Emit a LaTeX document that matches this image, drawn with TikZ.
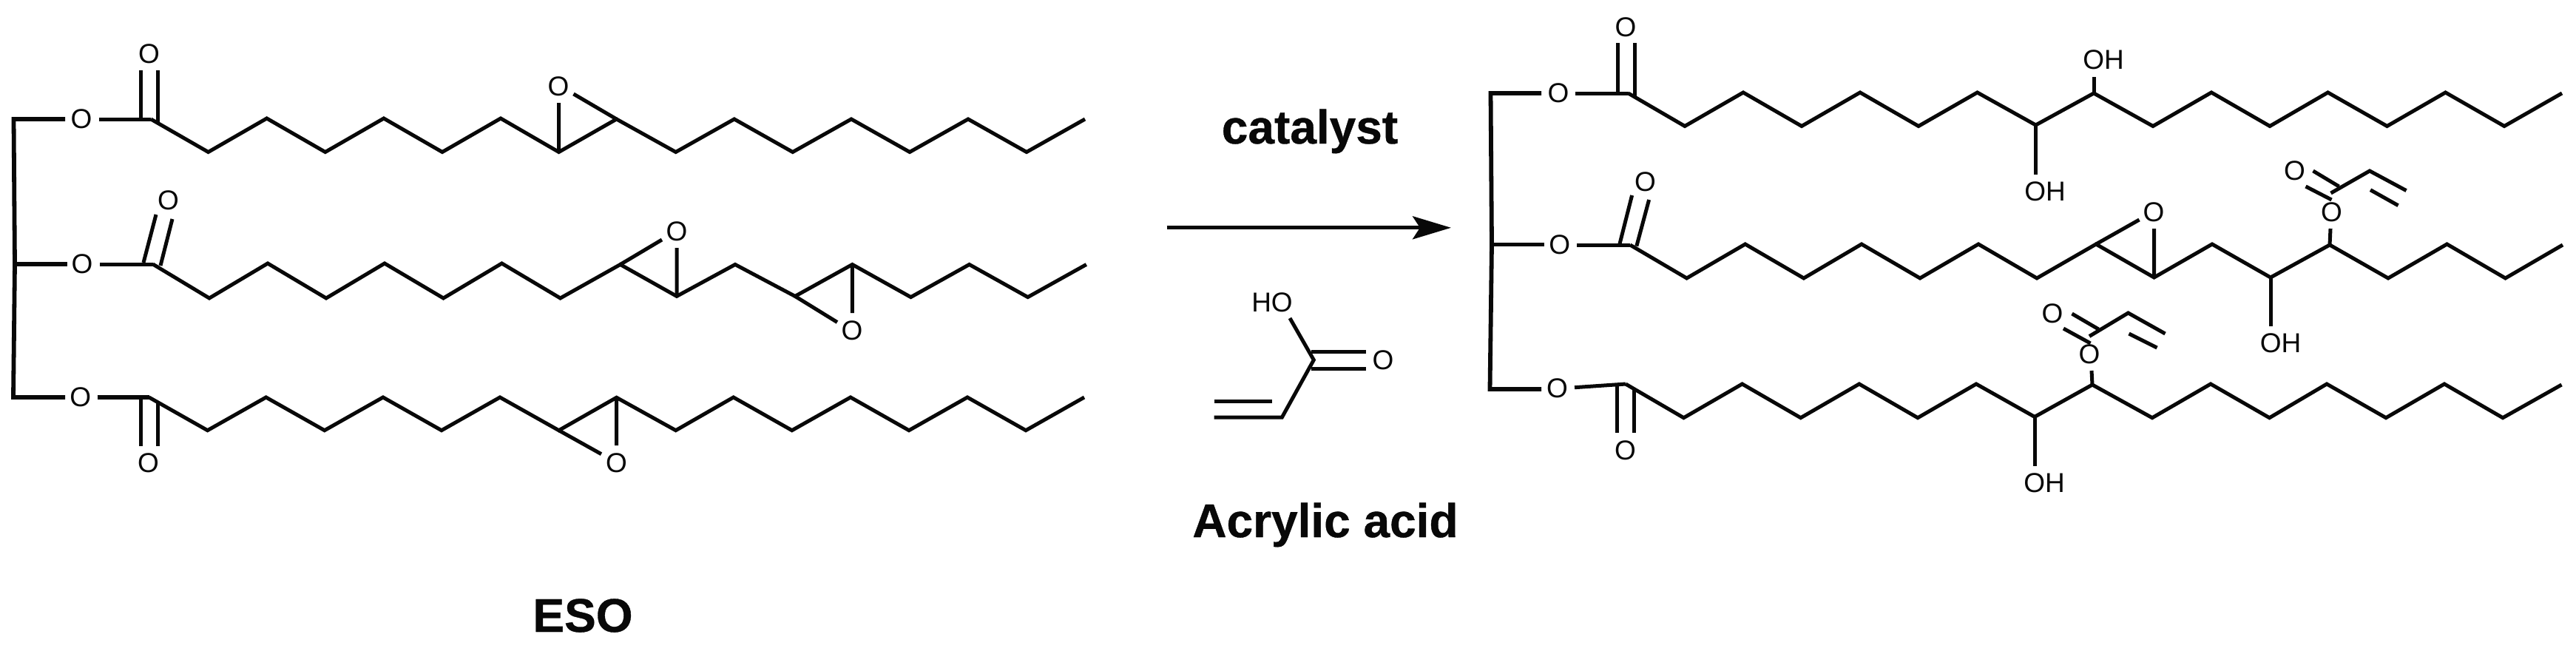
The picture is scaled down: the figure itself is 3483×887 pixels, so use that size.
\documentclass[tikz,border=0pt]{standalone}
\usepackage{fontspec}
\setmainfont{Liberation Sans}
\newfontfamily\headfont[FakeBold=0.6]{Liberation Sans Bold}
\usetikzlibrary{arrows.meta}
\tikzset{
  x=1pt,y=-1pt,
  bond/.style={line width=5pt,color=ink,line join=miter,line cap=butt},
  spine/.style={line width=5.8pt,color=ink,line join=miter,line cap=butt},
  atom/.style={inner sep=0pt,font=\fontsize{37}{37}\selectfont,text=ink},
  title/.style={inner sep=0pt,anchor=base,font=\fontsize{64}{64}\headfont,text=ink},
  reaction/.style={line width=5.2pt,color=ink,-{Stealth[length=52pt,width=31pt,inset=10pt]}}
}
\definecolor{ink}{gray}{0.03}
\begin{document}
\begin{tikzpicture}
\useasboundingbox (0,0) rectangle (3483,887);
\fill[white] (0,0) rectangle (3483,887);

% ---------- ESO, left
\draw[spine] (88,161) -- (18.5,161) -- (20,357) -- (18,537) -- (88,537);
\draw[spine] (20,357) -- (91,357);
\node[atom] (o1) at (110,161) {O};
\node[atom] (o2) at (111,357) {O};
\node[atom] (o3) at (108.7,537) {O};
\draw[bond] (134,161) -- (204,161);
\draw[bond] (135,357) -- (206.6,357);
\draw[spine] (131.6,537) -- (201.5,537);
\node[atom] (co1) at (201.5,73) {O};
\draw[bond] (190,161) -- (190,95) (213,166) -- (213,95);
\node[atom] (co2) at (227.5,271) {O};
\draw[bond] (194,355) -- (211,290) (217,359) -- (233,296);
\node[atom] (co3) at (200.5,626) {O};
\draw[bond] (190,537) -- (190,603) (213,545) -- (213,603);

% chain 1
\draw[bond] (204,161) -- (281.6,205.5) -- (360.7,160) -- (439.8,205.5) -- (518.9,160) -- (598,205.5) -- (677,160) -- (755.6,205.5) -- (833.6,161) -- (913.7,205.5) -- (992.8,161) -- (1071.8,205.5) -- (1151,161) -- (1230,205.5) -- (1309,161) -- (1388,205.5) -- (1467,161);
\node[atom] (ep1) at (755,117) {O};
\draw[bond] (755.6,205.5) -- (755.6,139) (833.6,161) -- (775.5,127);

% chain 2
\draw[bond] (206.6,357) -- (283,403) -- (362,356) -- (441,403) -- (520,356) -- (599.5,403) -- (678.5,356) -- (757.6,403) -- (838.7,357.5) -- (915,400.4) -- (994,357.5) -- (1075,400.4) -- (1152.4,357.5) -- (1231.5,401.6) -- (1310.6,357.5) -- (1389.7,401.6) -- (1468.8,357.5);
\node[atom] (ep2) at (915,313) {O};
\draw[bond] (838.7,357.5) -- (895,324) (915,400.4) -- (915,335);
\node[atom] (ep3) at (1152,447) {O};
\draw[bond] (1075,400.4) -- (1132,435.5) (1152.4,357.5) -- (1152.4,423);

% chain 3
\draw[bond] (201.5,537) -- (280.6,581.7) -- (359.7,537) -- (438.8,581.7) -- (517.9,537) -- (597,581.7) -- (676,537) -- (755.6,581.7) -- (833.6,537.3) -- (913.7,581.7) -- (991.7,537) -- (1070.8,581.7) -- (1150,537) -- (1229,581.7) -- (1308,537) -- (1387,581.7) -- (1466,537);
\node[atom] (ep4) at (833.6,626) {O};
\draw[bond] (833.6,537.3) -- (833.6,602) (755.6,581.7) -- (813,613.7);
\node[title] (eso) at (788,854) {ESO};

% ---------- reaction arrow and reagent
\node[title] (cat) at (1771,194) {catalyst};
\coordinate (arrS) at (1577.7,307.8);
\coordinate (arrE) at (1962,307.8);
\draw[reaction] (arrS) -- (arrE);
\node[atom] (ho) at (1720,409) {HO};
\node[atom] (aco) at (1870,486.5) {O};
\draw[bond] (1744,430) -- (1776.3,486.5) -- (1733.4,564) -- (1641.6,564);
\draw[bond] (1772.5,475) -- (1847,475) (1772.5,498) -- (1847,498);
\draw[bond] (1641.6,542) -- (1720,542);
\node[title] (aa) at (1792,726) {Acrylic acid};

% ---------- product, right
\draw[spine] (2084,126) -- (2015.5,126) -- (2017,330) -- (2014.5,526) -- (2084,526);
\draw[spine] (2017,330.5) -- (2088,330.5);
\node[atom] (p1) at (2107,126) {O};
\node[atom] (p2) at (2108.7,331) {O};
\node[atom] (p3) at (2105.6,524.5) {O};
\draw[bond] (2130,126) -- (2201.5,126);
\draw[bond] (2132,331) -- (2204,331);
\draw[bond] (2129,523.7) -- (2198,519);
\node[atom] (pc1) at (2198,36.6) {O};
\draw[bond] (2187,126) -- (2187,58) (2210,131) -- (2210,58);
\node[atom] (pc2) at (2224.5,245.5) {O};
\draw[bond] (2190,329.5) -- (2206.6,264) (2212.8,332.6) -- (2229.6,270);
\node[atom] (pc3) at (2197.4,608.5) {O};
\draw[bond] (2186,519) -- (2186,585) (2209,526) -- (2209,585);

% product chain 1
\draw[bond] (2201.5,126) -- (2278,170.5) -- (2357,125) -- (2436,170.5) -- (2515,125) -- (2594,170.5) -- (2673.5,125) -- (2752.5,169) -- (2831,126) -- (2911,170.5) -- (2990,125) -- (3069,170.5) -- (3147.5,125) -- (3227.5,170.5) -- (3306.5,125) -- (3386,170.5) -- (3464,126);
\node[atom] (oh1) at (2765,259) {OH};
\draw[bond] (2752.5,169) -- (2752.5,235.7);
\node[atom] (oh2) at (2844,81) {OH};
\draw[bond] (2831,126) -- (2831,103.5);

% product chain 2
\draw[bond] (2204,331) -- (2280.6,376) -- (2359.7,330) -- (2438.8,376) -- (2517,330) -- (2596,376) -- (2675,330) -- (2754,376) -- (2834,330) -- (2912.5,375) -- (2991,330) -- (3070,375) -- (3150,331) -- (3229,376) -- (3308.5,330) -- (3387.5,376) -- (3465,331);
\node[atom] (pe) at (2912,286.6) {O};
\draw[bond] (2834,330) -- (2892.5,297) (2912.5,375) -- (2912.5,309);
\node[atom] (oh3) at (3083.5,463.4) {OH};
\draw[bond] (3070,375) -- (3070,441);
\node[atom] (po1) at (3152.5,286.6) {O};
\draw[bond] (3150,331) -- (3151,309);
\draw[bond] (3151.5,261) -- (3204,231) -- (3253.5,257.6);
\draw[bond] (3205,256.7) -- (3242.5,277.7);
\node[atom] (pa1) at (3102.5,231) {O};
\draw[bond] (3127.5,231) -- (3162.5,252) (3117.5,252) -- (3152.5,270);

% product chain 3
\draw[bond] (2198,519) -- (2276.5,564.7) -- (2355.6,519) -- (2434.7,564.7) -- (2513.8,519) -- (2593,564.7) -- (2672,519) -- (2751,563.4) -- (2829,520) -- (2910,564.7) -- (2989,519) -- (3068.5,564.7) -- (3146,519) -- (3226,564.7) -- (3305,519) -- (3384,564.7) -- (3463.5,520);
\node[atom] (oh4) at (2764,653) {OH};
\draw[bond] (2751,563.4) -- (2751,630);
\node[atom] (po2) at (2825,479) {O};
\draw[bond] (2829,520) -- (2828,501);
\draw[bond] (2825,454.5) -- (2877.5,423) -- (2927.5,451);
\draw[bond] (2878.5,451) -- (2916.5,470);
\node[atom] (pa2) at (2775,424) {O};
\draw[bond] (2801.5,424) -- (2837.5,445) (2790,444) -- (2826.5,464);
\end{tikzpicture}
\end{document}
